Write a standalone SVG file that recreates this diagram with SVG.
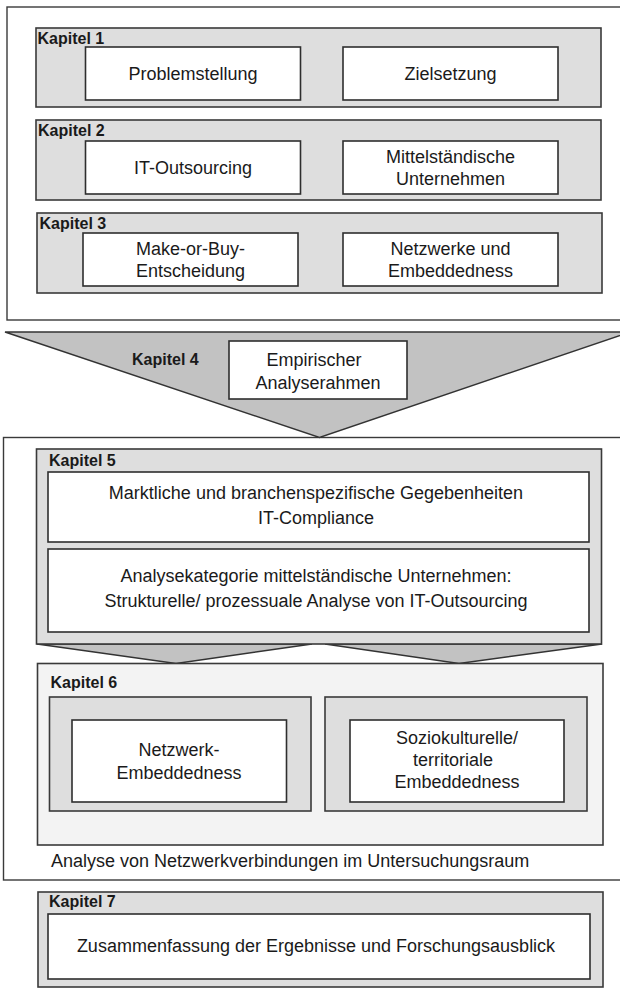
<svg xmlns="http://www.w3.org/2000/svg" width="620" height="992" viewBox="0 0 620 992">
<style>
  .frame{fill:#ffffff;stroke:#3a3a3a;stroke-width:1.4}
  .grey{fill:#dedede;stroke:#3a3a3a;stroke-width:1.6}
  .light{fill:#f3f3f3;stroke:#3a3a3a;stroke-width:1.6}
  .white{fill:#ffffff;stroke:#2e2e2e;stroke-width:1.6}
  .arrow{fill:#c2c2c2;stroke:#333333;stroke-width:1.4;stroke-linejoin:miter}
  text{font-family:"Liberation Sans",Arial,Helvetica,sans-serif;fill:#1a1a1a}
  .t{font-size:18px;text-anchor:middle}
  .ts{font-size:18px}
  .lab{font-size:16px;font-weight:bold}
</style>
<rect width="620" height="992" fill="#ffffff"/>

<g id="frame-top">
  <rect class="frame" x="7" y="7" width="625" height="313"/>
</g>

<g id="kapitel1">
  <rect class="grey" x="36" y="28" width="565" height="79"/>
  <text class="lab" x="37.5" y="44">Kapitel 1</text>
</g>
<g id="problemstellung">
  <rect class="white" x="85.5" y="47" width="215" height="53"/>
  <text class="t" x="193" y="80">Problemstellung</text>
</g>
<g id="zielsetzung">
  <rect class="white" x="343" y="47" width="215" height="53"/>
  <text class="t" x="450.5" y="80">Zielsetzung</text>
</g>

<g id="kapitel2">
  <rect class="grey" x="36" y="120" width="565" height="80"/>
  <text class="lab" x="38" y="136">Kapitel 2</text>
</g>
<g id="it-outsourcing">
  <rect class="white" x="85.5" y="141" width="215" height="53"/>
  <text class="t" x="193" y="174">IT-Outsourcing</text>
</g>
<g id="mittelstaendische">
  <rect class="white" x="343" y="141" width="215" height="53"/>
  <text class="t" x="450.5" y="163">Mittelständische</text>
  <text class="t" x="450.5" y="185">Unternehmen</text>
</g>

<g id="kapitel3">
  <rect class="grey" x="37" y="213" width="565" height="80"/>
  <text class="lab" x="39.5" y="228.5">Kapitel 3</text>
</g>
<g id="make-or-buy">
  <rect class="white" x="83" y="233" width="215" height="53"/>
  <text class="t" x="190.5" y="255">Make-or-Buy-</text>
  <text class="t" x="190.5" y="277">Entscheidung</text>
</g>
<g id="netzwerke">
  <rect class="white" x="343" y="233" width="215" height="53"/>
  <text class="t" x="450.5" y="255">Netzwerke und</text>
  <text class="t" x="450.5" y="277">Embeddedness</text>
</g>

<g id="frame-bottom">
  <rect class="frame" x="3.5" y="437.5" width="630" height="442.5"/>
  <text class="ts" x="51" y="867">Analyse von Netzwerkverbindungen im Untersuchungsraum</text>
</g>

<g id="connectors">
  <polygon class="arrow" points="5,332 630,332 319.5,437.5"/>
  <polygon class="arrow" points="37,644 312,644 176,663.5"/>
  <polygon class="arrow" points="325,644 602,644 459,663.5"/>
</g>

<g id="kapitel4">
  <text class="lab" x="132" y="365">Kapitel 4</text>
</g>
<g id="empirischer">
  <rect class="white" x="229" y="341" width="178" height="58"/>
  <text class="t" x="314" y="366">Empirischer</text>
  <text class="t" x="318" y="389">Analyserahmen</text>
</g>

<g id="kapitel5">
  <rect class="grey" x="36.5" y="449" width="565" height="195"/>
  <text class="lab" x="49" y="466">Kapitel 5</text>
</g>
<g id="marktliche">
  <rect class="white" x="48" y="472" width="541" height="70"/>
  <text class="t" x="316" y="499">Marktliche und branchenspezifische Gegebenheiten</text>
  <text class="t" x="316" y="524">IT-Compliance</text>
</g>
<g id="analysekategorie">
  <rect class="white" x="48" y="549" width="541" height="83"/>
  <text class="t" x="316" y="582">Analysekategorie mittelständische Unternehmen:</text>
  <text class="t" x="316" y="607">Strukturelle/ prozessuale Analyse von IT-Outsourcing</text>
</g>

<g id="kapitel6">
  <rect class="light" x="37.5" y="663.5" width="565.5" height="181.5"/>
  <text class="lab" x="50.5" y="688">Kapitel 6</text>
  <rect class="grey" x="49.5" y="697" width="261.5" height="114"/>
  <rect class="grey" x="325" y="697" width="262" height="114"/>
</g>
<g id="netzwerk-embeddedness">
  <rect class="white" x="72" y="720" width="214.5" height="82"/>
  <text class="t" x="179" y="756">Netzwerk-</text>
  <text class="t" x="179" y="779">Embeddedness</text>
</g>
<g id="soziokulturelle">
  <rect class="white" x="350" y="720" width="214" height="82"/>
  <text class="t" x="457" y="744">Soziokulturelle/</text>
  <text class="t" x="453" y="766">territoriale</text>
  <text class="t" x="457" y="788">Embeddedness</text>
</g>

<g id="kapitel7">
  <rect class="grey" x="38" y="892" width="565" height="95"/>
  <text class="lab" x="49" y="907">Kapitel 7</text>
</g>
<g id="zusammenfassung">
  <rect class="white" x="48" y="914" width="542" height="65"/>
  <text class="t" x="316" y="952">Zusammenfassung der Ergebnisse und Forschungsausblick</text>
</g>
</svg>
